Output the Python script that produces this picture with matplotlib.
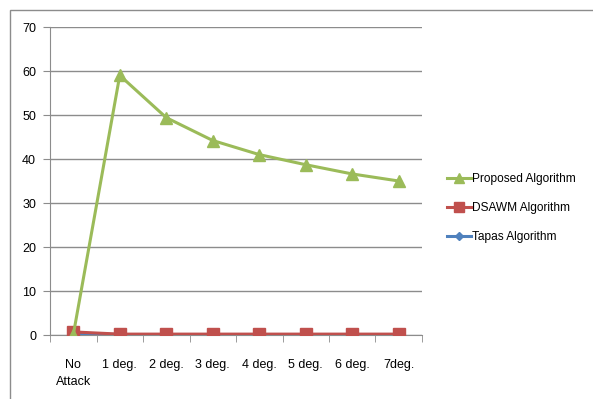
import matplotlib
matplotlib.use("Agg")
import matplotlib.pyplot as plt
from matplotlib.patches import Rectangle
from matplotlib.lines import Line2D

categories = ["No\nAttack", "1 deg.", "2 deg.", "3 deg.", "4 deg.", "5 deg.", "6 deg.", "7deg."]
proposed = [0.0, 59.0, 49.4, 44.2, 41.0, 38.7, 36.6, 35.0]
dsawm = [0.7, 0.2, 0.2, 0.2, 0.2, 0.2, 0.2, 0.2]
tapas = [0.4, 0.1, 0.1, 0.1, 0.1, 0.1, 0.1, 0.1]
y_ticks = [0, 10, 20, 30, 40, 50, 60, 70]

plt.rcParams['font.family'] = ['Liberation Sans Narrow', 'Liberation Sans', 'DejaVu Sans']

fig = plt.figure(figsize=(5.93, 3.99), dpi=100)
fig.patches.append(Rectangle((10/593, -0.01), 1.0, 1 - 10/399 + 0.01, transform=fig.transFigure,
                             fill=False, edgecolor='#8c8c8c', linewidth=1.0))

ax = fig.add_axes([50/593, 1 - 335/399, 372/593, 308/399])
x = list(range(len(categories)))

ax.plot(x, tapas, color='#4F81BD', marker='D', markersize=5, linewidth=2.2, label='Tapas Algorithm', zorder=3)
ax.plot(x, dsawm, color='#C0504D', marker='s', markersize=8, linewidth=2.2, label='DSAWM Algorithm', zorder=4)
ax.plot(x, proposed, color='#9BBB59', marker='^', markersize=8, linewidth=2.2, label='Proposed Algorithm', zorder=5)

ax.set_xlim(-0.5, len(categories) - 0.5)
ax.set_ylim(0, 70)
ax.set_yticks(y_ticks)
ax.set_xticks(x)
ax.set_xticklabels(categories, linespacing=1.6)
ax.set_xticks([i - 0.5 for i in range(len(categories) + 1)], minor=True)
ax.tick_params(axis='x', which='major', length=0, pad=17, labelsize=9, colors='#000000')
ax.tick_params(axis='x', which='minor', length=5, color='#8c8c8c', direction='out')
ax.tick_params(axis='y', length=5, color='#8c8c8c', labelsize=9, pad=5)
ax.grid(axis='y', color='#8c8c8c', linewidth=1.0)
ax.set_axisbelow(True)
for s in ['top', 'right']:
    ax.spines[s].set_visible(False)
for s in ['left', 'bottom']:
    ax.spines[s].set_color('#8c8c8c')
ax.spines['bottom'].set_zorder(2)

handles = [
    Line2D([], [], color='#9BBB59', marker='^', markersize=7, linewidth=2.2),
    Line2D([], [], color='#C0504D', marker='s', markersize=7, linewidth=2.2),
    Line2D([], [], color='#4F81BD', marker='D', markersize=4, linewidth=2.2),
]
fig.legend(handles, ['Proposed Algorithm', 'DSAWM Algorithm', 'Tapas Algorithm'],
           loc='center left', bbox_to_anchor=(436/593, 1 - 208/399), frameon=False,
           fontsize=8.6, handlelength=2.0, handletextpad=0.15, labelspacing=1.4)

fig.savefig('out.png', dpi=100)
